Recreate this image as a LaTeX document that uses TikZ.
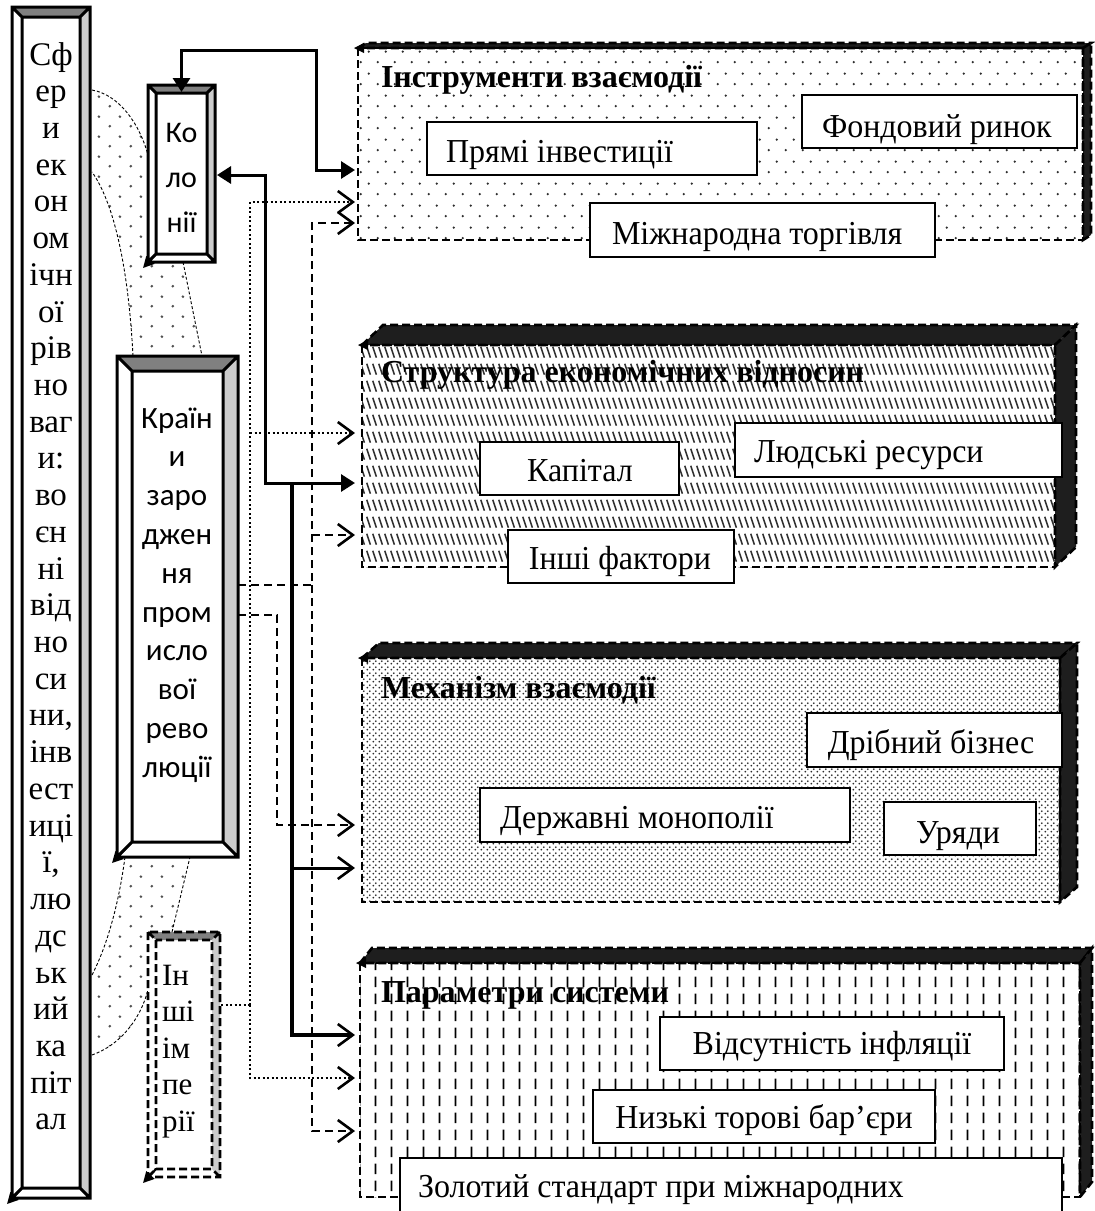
\documentclass[tikz,border=0pt]{standalone}
\usepackage{fontspec}
\setmainfont{Liberation Serif}
\newfontfamily\tallserif{Liberation Serif}[FakeStretch=0.955]
\newfontfamily\calibri{Carlito}
\usetikzlibrary{arrows.meta,patterns,calc}

\definecolor{bevdark}{RGB}{128,128,128}
\definecolor{bevlight}{RGB}{204,204,204}
\definecolor{cubedark}{RGB}{30,30,30}
\definecolor{blobgray}{RGB}{80,80,80}
\definecolor{patgray}{RGB}{45,45,45}

\pgfdeclarepatternformonly{blobdots}{\pgfpointorigin}{\pgfpoint{21pt}{20pt}}{\pgfpoint{21pt}{20pt}}{%
 \pgfpathcircle{\pgfpoint{5pt}{5pt}}{1.5pt}%
 \pgfpathcircle{\pgfpoint{15.5pt}{15pt}}{1.5pt}%
 \pgfusepath{fill}}
\pgfdeclarepatternformonly{sparsedots}{\pgfpointorigin}{\pgfpoint{17pt}{22pt}}{\pgfpoint{17pt}{22pt}}{%
 \pgfpathcircle{\pgfpoint{4pt}{5pt}}{1.3pt}%
 \pgfpathcircle{\pgfpoint{12.5pt}{16pt}}{1.3pt}%
 \pgfusepath{fill}}
\pgfdeclarepatternformonly{densedots}{\pgfpointorigin}{\pgfpoint{6pt}{6pt}}{\pgfpoint{6pt}{6pt}}{%
 \pgfpathcircle{\pgfpoint{1.5pt}{1.5pt}}{1.15pt}%
 \pgfpathcircle{\pgfpoint{4.5pt}{4.5pt}}{1.15pt}%
 \pgfusepath{fill}}
\pgfdeclarepatternformonly{hatchrows}{\pgfpointorigin}{\pgfpoint{6pt}{17pt}}{\pgfpoint{6pt}{17pt}}{%
 \pgfsetlinewidth{1.7pt}%
 \pgfpathmoveto{\pgfpoint{0.9pt}{15pt}}\pgfpathlineto{\pgfpoint{5.1pt}{3.5pt}}%
 \pgfusepath{stroke}}
\pgfdeclarepatternformonly{vdashes}{\pgfpointorigin}{\pgfpoint{16pt}{17pt}}{\pgfpoint{16pt}{17pt}}{%
 \pgfsetlinewidth{1.9pt}%
 \pgfpathmoveto{\pgfpoint{8pt}{3pt}}\pgfpathlineto{\pgfpoint{8pt}{14pt}}%
 \pgfusepath{stroke}}

% bevel box drawn on an (invisible) named frame node
\newcommand\mybevel[3]{%
 \fill[white] (#1.north west) rectangle (#1.south east);
 \fill[bevdark] (#1.north west) -- (#1.north east) -- ($(#1.north east)+(-#2,#2)$) -- ($(#1.north west)+(#2,#2)$) -- cycle;
 \fill[bevlight] (#1.north east) -- (#1.south east) -- ($(#1.south east)+(-#2,-#2)$) -- ($(#1.north east)+(-#2,#2)$) -- cycle;
 \draw[#3] (#1.north west) rectangle (#1.south east)
   ($(#1.north west)+(#2,#2)$) rectangle ($(#1.south east)+(-#2,-#2)$)
   (#1.north west) -- ++(#2,#2) (#1.north east) -- ++(-#2,#2)
   (#1.south east) -- ++(-#2,-#2) (#1.south west) -- ++(#2,-#2);
 \draw[line width=2pt,-{Triangle[length=11pt,width=11pt]}] ($(#1.south west)+(#2,-#2)$) -- ($(#1.south west)+(-5,6)$);
}
% 3D panel on a named front-face node
\newcommand\mycube[5]{%
 \fill[white] (#1.north west) rectangle (#1.south east);
 \fill[pattern=#4, pattern color=#5] (#1.north west) rectangle (#1.south east);
 \filldraw[fill=cubedark, cubeline] (#1.north west) -- ++(#2,-#3) -- ($(#1.north east)+(#2,-#3)$) -- (#1.north east) -- cycle;
 \filldraw[fill=cubedark, cubeline] (#1.north east) -- ++(#2,-#3) -- ($(#1.south east)+(#2,-#3)$) -- (#1.south east) -- cycle;
 \draw[cubeline] (#1.north west) rectangle (#1.south east);
 \fill[black] ($(#1.north west)+(-4,0)$) -- ++(10,-5) -- ++(0,10) -- cycle;
}

\begin{document}
\begin{tikzpicture}[x=1pt,y=-1pt,
 every node/.style={inner sep=0pt, outer sep=0pt},
 outl/.style={line width=3pt},
 outldash/.style={line width=2.8pt, dash pattern=on 8pt off 4pt},
 cubeline/.style={draw=black, line width=2.6pt, dash pattern=on 8pt off 4pt},
 itembox/.style={draw=black, fill=white, line width=1.3pt},
 blobline/.style={line width=0.9pt, dash pattern=on 3pt off 2pt},
 conn/.style={line width=3pt},
 dotc/.style={line width=2pt, dash pattern=on 2pt off 2.5pt},
 dashc/.style={line width=2.6pt, dash pattern=on 8pt off 5pt},
 openhead/.style={-{Straight Barb[length=15pt,width=22pt,line width=2.6pt]}},
 bothfill/.style={{Triangle[length=14pt,width=17pt]}-{Triangle[length=14pt,width=17pt]}},
 itemtxt/.style={font=\tallserif\fontsize{33.5}{38}\selectfont},
 titletxt/.style={font=\bfseries\fontsize{32}{36}\selectfont, anchor=base west},
]
\useasboundingbox (0,0) rectangle (1095,1211);
\clip (0,0) rectangle (1095,1211);
\fill[white] (0,0) rectangle (1095,1211);

% frames
\node[anchor=north west, minimum width=78pt, minimum height=1191pt] (sfera) at (12,7) {};
\node[anchor=north west, minimum width=67pt, minimum height=177pt] (kol) at (148,85) {};
\node[anchor=north west, minimum width=121pt, minimum height=501pt] (kraina) at (117,356) {};
\node[anchor=north west, minimum width=72pt, minimum height=245pt] (inshi) at (148,932) {};

\node[anchor=north west, minimum width=725pt, minimum height=192pt] (p1) at (358,48) {};
\node[anchor=north west, minimum width=693pt, minimum height=222pt] (p2) at (362,345) {};
\node[anchor=north west, minimum width=698pt, minimum height=244pt] (p3) at (362,658) {};
\node[anchor=north west, minimum width=720pt, minimum height=234pt] (p4) at (360,963) {};

% dotted band behind the left boxes
\fill[pattern=blobdots, pattern color=blobgray] (92,90) .. controls (120,95) and (140,125) .. (148,155) -- (148,262) -- (183,262) -- (202,356) -- (133,356) .. controls (128,260) and (112,200) .. (92,172) -- cycle;
\draw[blobline] (92,90) .. controls (120,95) and (140,125) .. (148,155);
\draw[blobline] (183,262) -- (202,356);
\draw[blobline] (133,356) .. controls (128,260) and (112,200) .. (92,172);
\fill[pattern=blobdots, pattern color=blobgray] (125,857) .. controls (118,910) and (105,950) .. (92,975) -- (92,1055) .. controls (120,1045) and (140,1020) .. (148,990) -- (148,932) -- (172,932) -- (190,857) -- cycle;
\draw[blobline] (125,857) .. controls (118,910) and (105,950) .. (92,975);
\draw[blobline] (92,1055) .. controls (120,1045) and (140,1020) .. (148,990);
\draw[blobline] (172,932) -- (190,857);

% bevel boxes
\mybevel{sfera}{10}{outl}
\mybevel{kol}{8}{outl}
\mybevel{kraina}{15}{outl}
\mybevel{inshi}{8}{outldash}

% panels
\mycube{p1}{8}{5}{sparsedots}{patgray}
\mycube{p2}{21}{20}{hatchrows}{patgray}
\mycube{p3}{17}{15}{densedots}{patgray}
\mycube{p4}{12}{15}{vdashes}{black}

% panel 1
\node[titletxt] (t1) at (381,87) {Інструменти взаємодії};
\draw[itembox] (427,122) rectangle (757,175);
\node[itemtxt, anchor=base west] (pi) at (446,162) {Прямі інвестиції};
\draw[itembox] (802,95) rectangle (1077,148);
\node[itemtxt, anchor=base west] (fr) at (822,137) {Фондовий ринок};
\draw[itembox] (590,203) rectangle (935,257);
\node[itemtxt, anchor=base west] (mt) at (612,244) {Міжнародна торгівля};

% panel 2
\node[titletxt] (t2) at (381,382) {Структура економічних відносин};
\draw[itembox] (480,442) rectangle (679,495);
\node[itemtxt, anchor=base] (kap) at (580,481) {Капітал};
\draw[itembox] (735,423) rectangle (1062,477);
\node[itemtxt, anchor=base west] (lr) at (754,462) {Людські ресурси};
\draw[itembox] (508,530) rectangle (734,583);
\node[itemtxt, anchor=base] (if) at (620,569) {Інші фактори};

% panel 3
\node[titletxt] (t3) at (381,698) {Механізм взаємодії};
\draw[itembox] (807,713) rectangle (1062,767);
\node[itemtxt, anchor=base] (db) at (931,753) {Дрібний бізнес};
\draw[itembox] (480,788) rectangle (850,842);
\node[itemtxt, anchor=base west] (dm) at (500,828) {Державні монополії};
\draw[itembox] (884,802) rectangle (1036,855);
\node[itemtxt, anchor=base] (ur) at (958,843) {Уряди};

% panel 4
\node[titletxt] (t4) at (381,1002) {Параметри системи};
\draw[itembox] (660,1017) rectangle (1004,1070);
\node[itemtxt, anchor=base] (vi) at (832,1054) {Відсутність інфляції};
\draw[itembox] (593,1090) rectangle (935,1143);
\node[itemtxt, anchor=base] (nb) at (764,1128) {Низькі торові бар’єри};
\draw[itembox] (400,1158) rectangle (1062,1240);
\node[itemtxt, anchor=base west] (zs) at (418,1197) {Золотий стандарт при міжнародних};

% connector points
\coordinate (a1) at (316,50);
\coordinate (p1s) at (355,170);
\coordinate (p1d) at (355,202);
\coordinate (p1e) at (355,223);
\coordinate (p2d) at (355,433);
\coordinate (p2s) at (355,483);
\coordinate (p2e) at (355,535);
\coordinate (p3e) at (355,825);
\coordinate (p3s) at (355,868);
\coordinate (p4s) at (355,1035);
\coordinate (p4d) at (355,1078);
\coordinate (p4e) at (355,1131);
\coordinate (b1) at (265,483);
\coordinate (c0) at (292,483);
\coordinate (dI) at (221,1005);
\coordinate (dv) at (250,1005);
\coordinate (eK) at (238,585);
\coordinate (ev) at (312,585);
\coordinate (fK) at (238,615);
\coordinate (fv) at (277,615);

% solid connectors
\draw[conn, bothfill] ($(kol.north)+(0,7)$) |- (a1) |- (p1s);
\draw[conn, bothfill] ($(kol.east)+(2,1.5)$) -| (b1) -- (p2s);
\draw[conn, line width=4pt, openhead] (c0) |- (p4s);
\draw[conn, openhead] (c0 |- p3s) -- (p3s);

% dotted connectors
\draw[dotc] (dI) -- (dv);
\draw[dotc, openhead] (dv) |- (p1d);
\draw[dotc, openhead] (dv |- p2d) -- (p2d);
\draw[dotc, openhead] (dv) |- (p4d);

% dashed connectors
\draw[dashc, openhead] (eK) -| (ev |- p1e) -- (p1e);
\draw[dashc, openhead] (ev |- p2e) -- (p2e);
\draw[dashc, openhead] (ev) |- (p4e);
\draw[dashc, openhead] (fK) -| (fv |- p3e) -- (p3e);

% texts of the left boxes
\node[anchor=north, align=center, font=\fontsize{33}{36.72}\selectfont] (sferatxt) at (51,40)
 {\rule{0pt}{25pt}Сф\\ер\\и\\ек\\он\\ом\\ічн\\ої\\рів\\но\\ваг\\и:\\во\\єн\\ні\\від\\но\\си\\ни,\\інв\\ест\\иці\\ї,\\лю\\дс\\ьк\\ий\\ка\\піт\\ал};
\node[anchor=north, align=center, font=\calibri\fontsize{30}{45}\selectfont] (koltxt) at (181.5,118)
 {\rule{0pt}{24pt}Ко\\ло\\нії};
\node[anchor=north, align=center, font=\calibri\fontsize{31}{38.8}\selectfont] (krainatxt) at (177,404)
 {\rule{0pt}{24pt}Країн\\и\\заро\\джен\\ня\\пром\\исло\\вої\\рево\\люції};
\node[anchor=north west, align=left, font=\fontsize{31}{36.5}\selectfont] (inshitxt) at (162,961)
 {\rule{0pt}{24pt}Ін\\ші\\ім\\пе\\рії};
\end{tikzpicture}
\end{document}
